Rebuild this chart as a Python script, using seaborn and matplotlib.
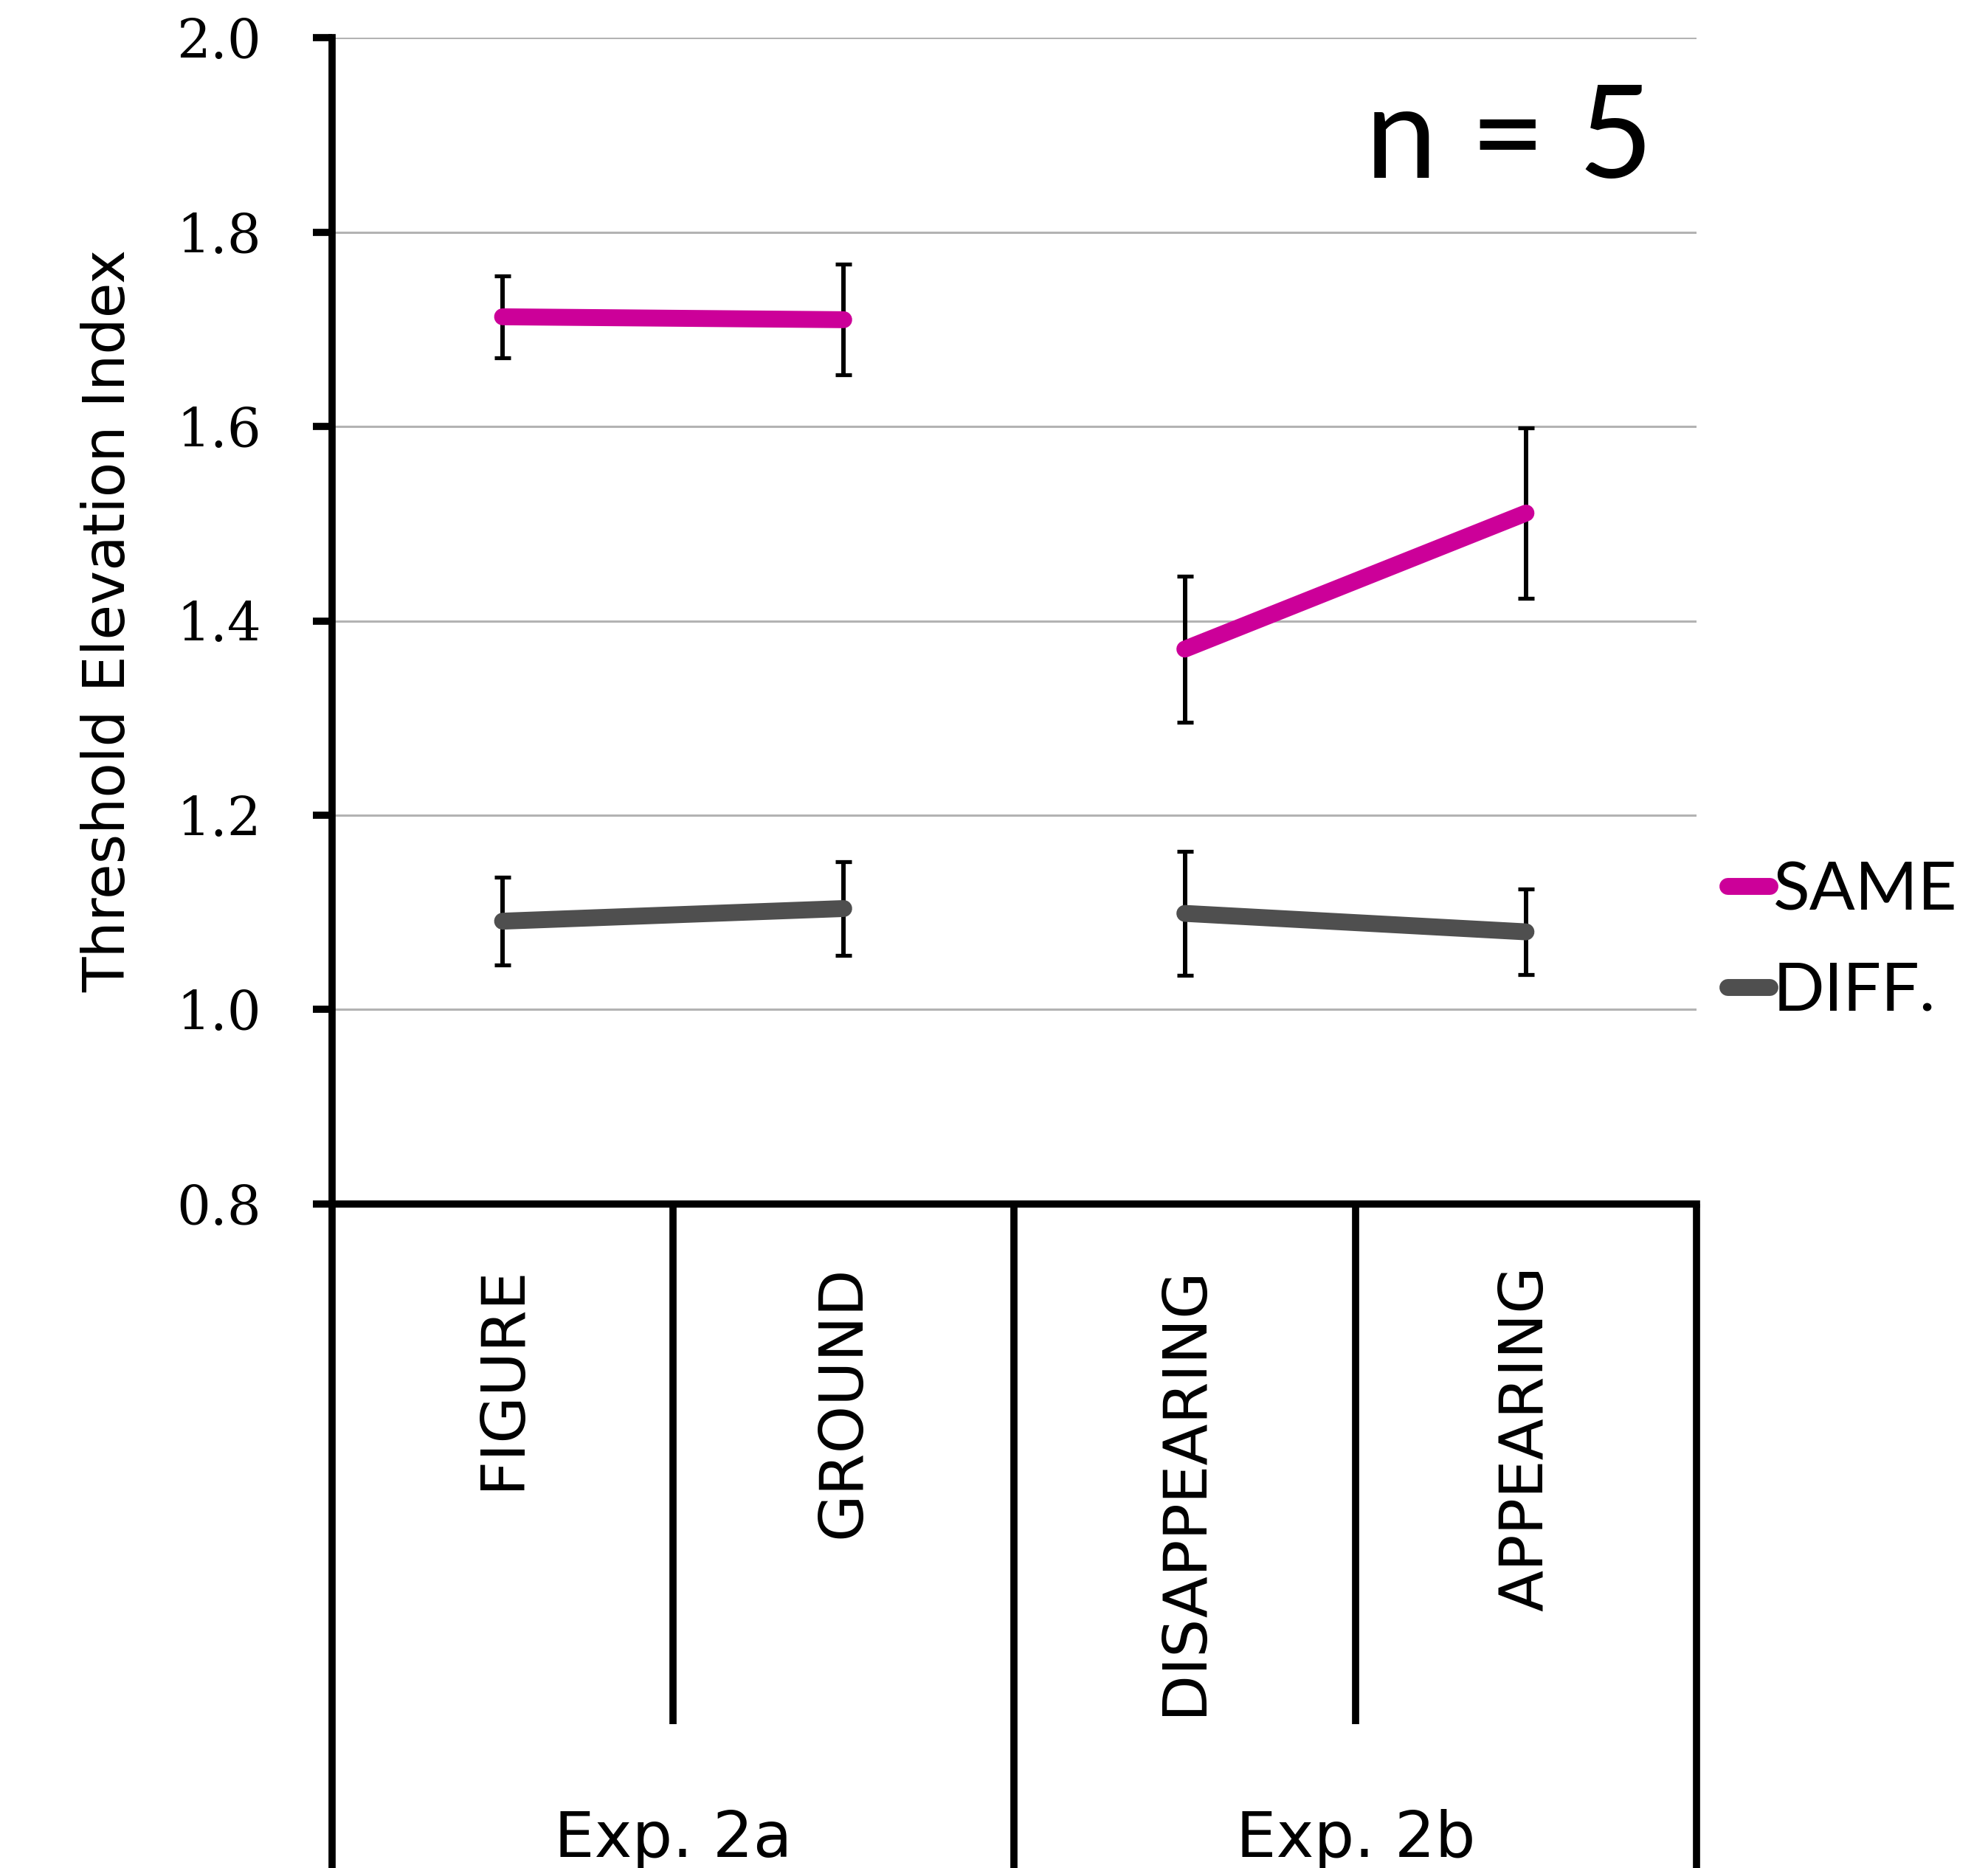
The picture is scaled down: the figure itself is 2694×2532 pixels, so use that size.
import numpy as np
import pandas as pd
import seaborn as sns
import matplotlib.pyplot as plt
from matplotlib.lines import Line2D

# values
conditions = ["FIGURE", "GROUND", "DISAPPEARING", "APPEARING"]
experiments = ["Exp. 2a", "Exp. 2a", "Exp. 2b", "Exp. 2b"]
exp_names = ["Exp. 2a", "Exp. 2b"]

same_mean = [1.713, 1.710, 1.371, 1.511]
same_err = [0.042, 0.057, 0.075, 0.088]
diff_mean = [1.091, 1.104, 1.099, 1.080]
diff_err = [0.045, 0.048, 0.064, 0.044]

series_names = ["SAME", "DIFF."]
series_colors = ["#cc0099", "#4f4f4f"]
y_ticks = [0.8, 1.0, 1.2, 1.4, 1.6, 1.8, 2.0]

positions = list(np.arange(len(conditions)) + 0.5)

df = pd.DataFrame({
    "pos": positions * 2,
    "cond": conditions * 2,
    "exp": experiments * 2,
    "group": [series_names[0]] * 4 + [series_names[1]] * 4,
    "mean": same_mean + diff_mean,
    "err": same_err + diff_err,
})

sns.set_style("white")
plt.rcParams.update({"text.color": "black", "axes.labelcolor": "black",
                     "xtick.color": "black", "ytick.color": "black"})

fig, ax = plt.subplots(figsize=(26.94, 25.32), dpi=100)
fig.subplots_adjust(left=0.167, right=0.8534, top=0.9797, bottom=0.3555)

# error bars first, lines on top
for name in series_names:
    sub = df[df["group"] == name]
    ax.errorbar(sub["pos"], sub["mean"], yerr=sub["err"], fmt="none",
                ecolor="black", elinewidth=4.3, capsize=8, capthick=3.8, zorder=3)

sns.lineplot(data=df, x="pos", y="mean", hue="group", units="exp",
             estimator=None, sort=False,
             palette=dict(zip(series_names, series_colors)),
             linewidth=16.5, solid_capstyle="round", legend=False, ax=ax, zorder=4)

ax.set_xlim(0, len(conditions))
ax.set_ylim(y_ticks[0], y_ticks[-1])

# y axis
ax.set_yticks(y_ticks)
ax.set_yticklabels([f"{v:.1f}" for v in y_ticks], fontfamily="DejaVu Serif", fontsize=52)
ax.tick_params(axis="y", direction="out", length=19, width=7, pad=50, left=True)
ax.set_ylabel("Threshold Elevation Index", fontsize=56, fontfamily="DejaVu Sans")
ax.yaxis.set_label_coords(-0.143, 0.5)

# x axis: rotated condition names
ax.set_xticks(positions)
ax.set_xticklabels(conditions, rotation=90, fontfamily="DejaVu Sans", fontsize=59,
                   ha="center", va="top")
ax.tick_params(axis="x", length=0, pad=60)
ax.set_xlabel("")

ax.yaxis.grid(True, color="#b3b3b3", linewidth=2.2)
ax.xaxis.grid(False)
ax.set_axisbelow(True)

for side in ["top", "right"]:
    ax.spines[side].set_visible(False)
for side in ["left", "bottom"]:
    ax.spines[side].set_linewidth(7)
    ax.spines[side].set_color("black")

# table-like separators under the x axis
trans = ax.get_xaxis_transform()
for i in range(len(conditions) + 1):
    if 0 < i < len(conditions) and experiments[i] == experiments[i - 1]:
        bottom = -0.446
    else:
        bottom = -0.62
    ax.plot([i, i], [0, bottom], transform=trans, color="black", lw=7,
            clip_on=False, solid_capstyle="butt", zorder=5)

for name in exp_names:
    xs = [p for p, e in zip(positions, experiments) if e == name]
    ax.text(np.mean(xs), -0.56, name, transform=trans, ha="center", va="baseline",
            fontsize=62, fontfamily="DejaVu Sans")

fig.text(0.8315, 0.905, "n = 5", ha="right", va="baseline", fontsize=126, fontfamily="Lato")

handles = [Line2D([], [], color=c, lw=16.5, solid_capstyle="round") for c in series_colors]
fig.legend(handles, series_names, loc="center left", bbox_to_anchor=(0.869, 0.496),
           frameon=False, handlelength=0.62, handletextpad=0.05, borderpad=0,
           borderaxespad=0, labelspacing=0.58, prop={"family": "Lato", "size": 66})

fig.savefig("out.png", dpi=100)
